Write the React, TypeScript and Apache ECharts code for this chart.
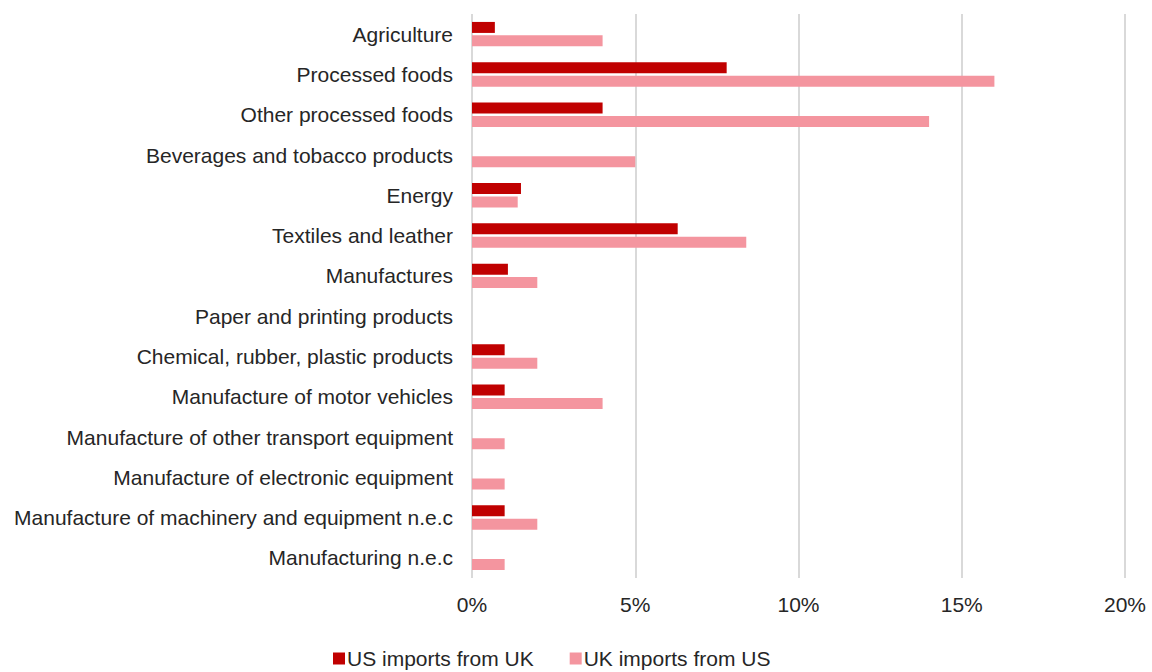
import React, { useEffect, useRef } from "react";
import * as echarts from "echarts";

const categories = [
  "Agriculture",
  "Processed foods",
  "Other processed foods",
  "Beverages and tobacco products",
  "Energy",
  "Textiles and leather",
  "Manufactures",
  "Paper and printing products",
  "Chemical, rubber, plastic products",
  "Manufacture of motor vehicles",
  "Manufacture of other transport equipment",
  "Manufacture of electronic equipment",
  "Manufacture of machinery and equipment n.e.c",
  "Manufacturing n.e.c",
];

const usImportsFromUK = [0.7, 7.8, 4.0, null, 1.5, 6.3, 1.1, null, 1.0, 1.0, null, null, 1.0, null];
const ukImportsFromUS = [4.0, 16.0, 14.0, 5.0, 1.4, 8.4, 2.0, null, 2.0, 4.0, 1.0, 1.0, 2.0, 1.0];

const xTicks = { min: 0, max: 20, interval: 5 };

export default function App() {
  const ref = useRef<HTMLDivElement>(null);
  useEffect(() => {
    if (!ref.current) return;
    const chart = echarts.init(ref.current, null, { renderer: "svg" });
    const font = "Liberation Sans, Arial, sans-serif";
    chart.setOption({
      animation: false,
      backgroundColor: "#ffffff",
      textStyle: { fontFamily: font },
      grid: { left: 472, right: 27, top: 14, bottom: 94 },
      legend: {
        left: 333,
        top: 648,
        padding: 0,
        icon: "rect",
        itemWidth: 12,
        itemHeight: 12,
        itemGap: 36,
        textStyle: { fontSize: 21, color: "#262626", fontFamily: font, padding: [0, 0, 0, -3] },
        data: ["US imports from UK", "UK imports from US"],
      },
      xAxis: {
        type: "value",
        min: xTicks.min,
        max: xTicks.max,
        interval: xTicks.interval,
        axisLine: { show: false },
        axisTick: { show: false },
        axisLabel: {
          formatter: "{value}%",
          fontSize: 21,
          color: "#262626",
          margin: 16,
          fontFamily: font,
        },
        splitLine: { show: true, lineStyle: { color: "#d9d9d9", width: 2 } },
      },
      yAxis: {
        type: "category",
        inverse: true,
        data: categories,
        axisLine: { show: false },
        axisTick: { show: false },
        axisLabel: { fontSize: 21, color: "#262626", margin: 19, fontFamily: font },
      },
      series: [
        {
          name: "US imports from UK",
          type: "bar",
          data: usImportsFromUK,
          barWidth: 11,
          barGap: "22%",
          itemStyle: { color: "#C00000" },
        },
        {
          name: "UK imports from US",
          type: "bar",
          data: ukImportsFromUS,
          barWidth: 11,
          barGap: "22%",
          itemStyle: { color: "#F4959F" },
        },
      ],
    });
    return () => chart.dispose();
  }, []);
  return <div ref={ref} style={{ width: 1152, height: 672, position: "absolute", left: 0, top: 0 }} />;
}
